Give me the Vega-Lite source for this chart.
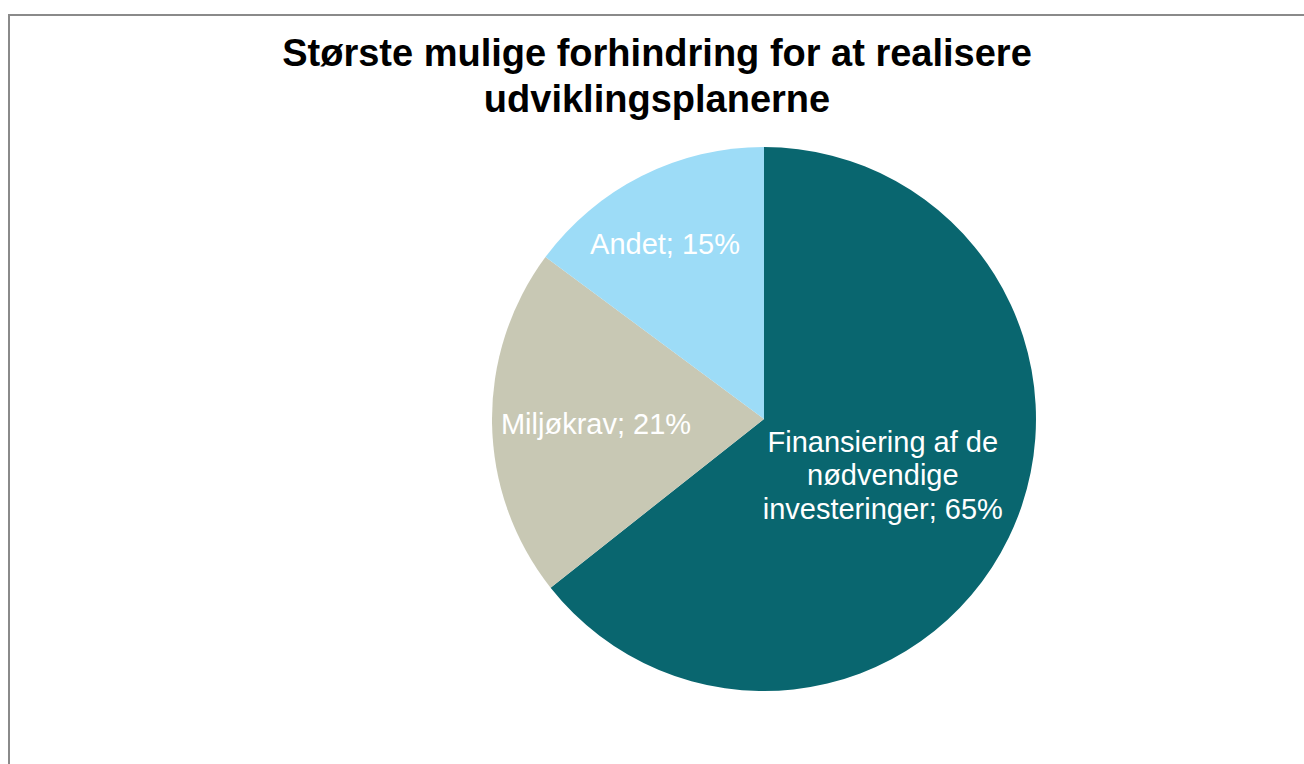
{
  "$schema": "https://vega.github.io/schema/vega-lite/v6.json",
  "width": 1510,
  "height": 808,
  "autosize": {"type": "none"},
  "padding": {"left": 9, "top": 15, "right": 0, "bottom": 0},
  "background": "white",
  "view": {"stroke": "#8a8a8a", "strokeWidth": 2},
  "config": {"view": {"stroke": "#8a8a8a", "strokeWidth": 2}},
  "title": {
    "text": ["Største mulige forhindring for at realisere", "udviklingsplanerne"],
    "font": "Liberation Sans",
    "fontSize": 38,
    "fontWeight": "bold",
    "color": "#000000",
    "anchor": "middle",
    "frame": "group",
    "dx": -107,
    "lineHeight": 46,
    "offset": -105
  },
  "data": {
    "values": [
      {"category": "Finansiering af de nødvendige investeringer", "label": "Finansiering af de\nnødvendige\ninvesteringer; 65%", "value": 65, "order": 1},
      {"category": "Miljøkrav", "label": "Miljøkrav; 21%", "value": 21, "order": 2},
      {"category": "Andet", "label": "Andet; 15%", "value": 15, "order": 3}
    ]
  },
  "transform": [
    {"stack": "value", "groupby": [], "sort": [{"field": "order", "order": "ascending"}], "as": ["v0", "v1"]},
    {"calculate": "(datum.v0 + datum.v1) / 2", "as": "mid"}
  ],
  "layer": [
    {
      "mark": {"type": "arc", "outerRadius": 272, "stroke": null},
      "encoding": {
        "theta": {"field": "v0", "type": "quantitative", "scale": {"domain": [0, 101]}},
        "theta2": {"field": "v1"},
        "color": {
          "field": "category",
          "type": "nominal",
          "scale": {
            "domain": ["Finansiering af de nødvendige investeringer", "Miljøkrav", "Andet"],
            "range": ["#09666f", "#c8c8b4", "#9ddcf7"]
          },
          "legend": null
        }
      }
    },
    {
      "transform": [{"filter": "datum.order == 1"}],
      "mark": {"type": "text", "radius": 132, "dy": -34, "font": "Liberation Sans", "fontSize": 29, "color": "white", "align": "center", "baseline": "middle", "lineBreak": "\n", "lineHeight": 33.5},
      "encoding": {
        "theta": {"field": "mid", "type": "quantitative", "scale": {"domain": [0, 101]}},
        "text": {"field": "label"}
      }
    },
    {
      "transform": [{"filter": "datum.order == 2"}],
      "mark": {"type": "text", "radius": 168, "dy": 3, "font": "Liberation Sans", "fontSize": 29, "color": "white", "align": "center", "baseline": "middle"},
      "encoding": {
        "theta": {"field": "mid", "type": "quantitative", "scale": {"domain": [0, 101]}},
        "text": {"field": "label"}
      }
    },
    {
      "transform": [{"filter": "datum.order == 3"}],
      "mark": {"type": "text", "radius": 200, "dx": -9, "dy": 5, "font": "Liberation Sans", "fontSize": 29, "color": "white", "align": "center", "baseline": "middle"},
      "encoding": {
        "theta": {"field": "mid", "type": "quantitative", "scale": {"domain": [0, 101]}},
        "text": {"field": "label"}
      }
    }
  ]
}
